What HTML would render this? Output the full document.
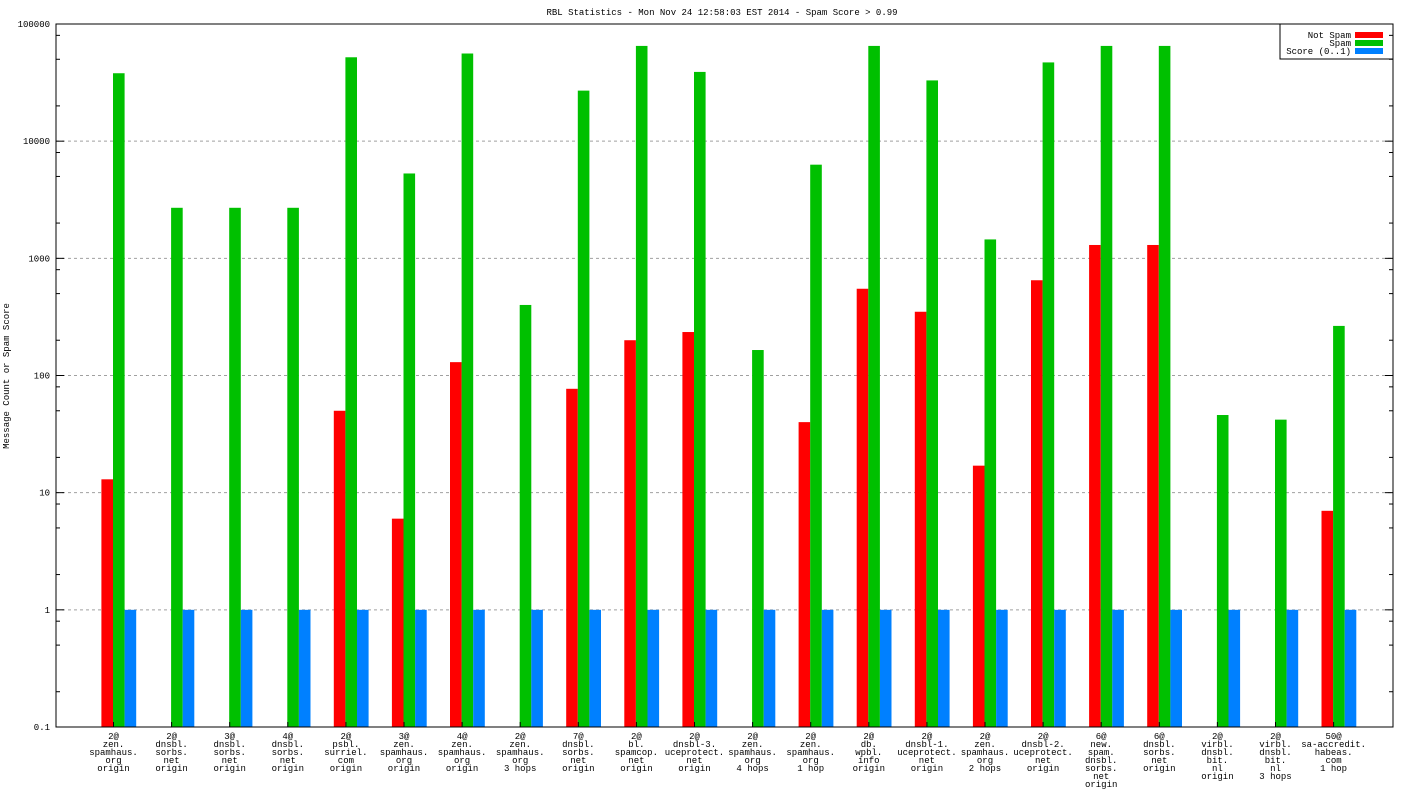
<!DOCTYPE html>
<html><head><meta charset="utf-8"><style>
html,body{margin:0;padding:0;background:#fff;}
svg{display:block;font-family:"Liberation Mono","DejaVu Sans Mono",monospace;}
</style></head><body>
<svg id="chart" width="1408" height="792" xmlns="http://www.w3.org/2000/svg">
<text x="722" y="15" font-size="9" text-anchor="middle">RBL Statistics - Mon Nov 24 12:58:03 EST 2014 - Spam Score &gt; 0.99</text>
<text transform="translate(9,376) rotate(-90)" font-size="9" text-anchor="middle">Message Count or Spam Score</text>
<g id="grid"></g><g id="bars"></g><g id="axes"></g>
<g>
<path d="M1280,24 V59 H1393" fill="none" stroke="#000"/>
<text x="1351" y="38" font-size="9" text-anchor="end">Not Spam</text>
<rect x="1355" y="32" width="28" height="6" fill="#ff0000"/>
<text x="1351" y="46" font-size="9" text-anchor="end">Spam</text>
<rect x="1355" y="40" width="28" height="6" fill="#00c000"/>
<text x="1351" y="54" font-size="9" text-anchor="end">Score (0..1)</text>
<rect x="1355" y="48" width="28" height="6" fill="#0080ff"/>
</g>
</svg>
<script>
const categories=[["2@","zen.","spamhaus.","org","origin"],["2@","dnsbl.","sorbs.","net","origin"],["3@","dnsbl.","sorbs.","net","origin"],["4@","dnsbl.","sorbs.","net","origin"],["2@","psbl.","surriel.","com","origin"],["3@","zen.","spamhaus.","org","origin"],["4@","zen.","spamhaus.","org","origin"],["2@","zen.","spamhaus.","org","3 hops"],["7@","dnsbl.","sorbs.","net","origin"],["2@","bl.","spamcop.","net","origin"],["2@","dnsbl-3.","uceprotect.","net","origin"],["2@","zen.","spamhaus.","org","4 hops"],["2@","zen.","spamhaus.","org","1 hop"],["2@","db.","wpbl.","info","origin"],["2@","dnsbl-1.","uceprotect.","net","origin"],["2@","zen.","spamhaus.","org","2 hops"],["2@","dnsbl-2.","uceprotect.","net","origin"],["6@","new.","spam.","dnsbl.","sorbs.","net","origin"],["6@","dnsbl.","sorbs.","net","origin"],["2@","virbl.","dnsbl.","bit.","nl","origin"],["2@","virbl.","dnsbl.","bit.","nl","3 hops"],["50@","sa-accredit.","habeas.","com","1 hop"]];
const notSpam=[13,0,0,0,50,6,130,0,77,200,235,0,40,550,350,17,650,1300,1300,0,0,7];
const spam=[38000,2700,2700,2700,52000,5300,56000,400,27000,65000,39000,165,6300,65000,33000,1450,47000,65000,65000,46,42,265];
const score=[1,1,1,1,1,1,1,1,1,1,1,1,1,1,1,1,1,1,1,1,1,1];
const yTicks=[0.1,1,10,100,1000,10000,100000];
const yTickLabels=["0.1","1","10","100","1000","10000","100000"];
const L=56,R=1393,T=24,B=727,yMin=0.1,yMax=100000;
const NS="http://www.w3.org/2000/svg";
function y(v){return B-(Math.log10(v)-Math.log10(yMin))/(Math.log10(yMax)-Math.log10(yMin))*(B-T);}
const step=58.1,first=113.5;
function xc(i){return first+i*step;}
function mk(t,a,p){const e=document.createElementNS(NS,t);for(const k in a)e.setAttribute(k,a[k]);document.getElementById(p).appendChild(e);return e;}
yTicks.forEach((v,i)=>{
 const g=mk('line',{x1:L,x2:R,y1:y(v),y2:y(v),stroke:'#a0a0a0','stroke-dasharray':'3,3'},'grid');
 
 
 const t=mk('text',{x:L-6,y:y(v)+3,'font-size':9,'text-anchor':'end'},'axes');
 t.textContent=yTickLabels[i];
 
 
 mk('line',{x1:L,x2:L+8,y1:y(v),y2:y(v),stroke:'#000'},'axes');
 mk('line',{x1:R,x2:R-8,y1:y(v),y2:y(v),stroke:'#000'},'axes');
 if(i<yTicks.length-1)[2,5,8].forEach(m=>{const yy=y(v*m);mk('line',{x1:L,x2:L+4,y1:yy,y2:yy,stroke:'#000'},'axes');mk('line',{x1:R,x2:R-4,y1:yy,y2:yy,stroke:'#000'},'axes');});
});
const bw=11.6;
categories.forEach((c,i)=>{
 const cx=xc(i);
 [[notSpam,'#ff0000',-bw,'bar-not-spam'],[spam,'#00c000',0,'bar-spam'],[score,'#0080ff',bw,'bar-score']].forEach(s=>{
  const v=s[0][i]; if(!v) return;
  const r=mk('rect',{x:cx+s[2]-0.5,y:y(v),width:bw,height:B-y(v),fill:s[1]},'bars');
  
  
 });
 mk('line',{x1:cx,x2:cx,y1:B,y2:B-5,stroke:'#000'},'axes');
 const t=mk('text',{x:cx,y:B+12,'font-size':9,'text-anchor':'middle'},'axes');
 
 
 c.forEach((ln,j)=>{const s=document.createElementNS(NS,'tspan');s.setAttribute('x',cx);s.setAttribute('dy',j?8:0);s.textContent=ln;t.appendChild(s);});
});
const f=mk('rect',{x:L,y:T,width:R-L,height:B-T,fill:'none',stroke:'#000'},'axes');


</script>
</body></html>
